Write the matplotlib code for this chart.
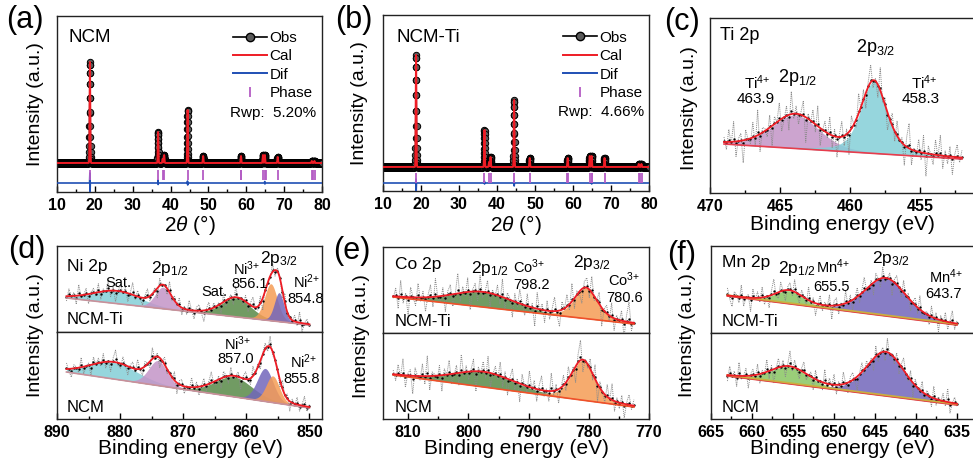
import numpy as np
import matplotlib
matplotlib.use('Agg')
import matplotlib.pyplot as plt
from matplotlib.lines import Line2D
from matplotlib.ticker import MultipleLocator

plt.rcParams['font.family'] = ['Liberation Sans', 'DejaVu Sans']
plt.rcParams['mathtext.fontset'] = 'custom'
plt.rcParams['mathtext.rm'] = 'Liberation Sans'
plt.rcParams['mathtext.it'] = 'Liberation Sans:italic'
plt.rcParams['mathtext.bf'] = 'Liberation Sans:bold'

# ---------------- XRD data ----------------
xrd_reflections = [18.7, 36.7, 37.9, 38.3, 44.5, 48.6, 58.6, 64.4, 64.9, 68.3, 77.3, 78.0]
ncm_intensity = [101, 31, 4, 8, 53, 7, 7, 8, 8, 6, 2, 2]
ncmti_intensity = [112, 37, 5, 10, 67, 9, 9, 11, 11, 9, 3, 3]
phase_ticks = [18.7, 36.7, 37.9, 38.3, 44.5, 48.6, 58.5, 58.7, 64.4, 64.9, 65.1, 68.3, 77.3, 77.7, 78.1]
ncm_dif_pos = [18.7, 36.7, 44.5, 64.9]
ncm_dif_up = [10, 3, 2, 1.5]
ncm_dif_down = [-13, -1.5, -2, -1]
ncmti_dif_pos = [18.7, 36.7, 44.5, 64.9]
ncmti_dif_up = [4, 2, 2, 1]
ncmti_dif_down = [-10, -1, -3, -1]
ncm_rwp = 'Rwp:  5.20%'
ncmti_rwp = 'Rwp:  4.66%'

# ---------------- XPS data ----------------
ti_bg_x = [469, 452]
ti_bg_y = [49, 34]
ti_centers = [463.9, 458.3]
ti_heights = [33.5, 72]
ti_fwhm = [4.0, 2.2]
ti_eta = [0.3, 0.5]

ni_ti_bg_x = [888.5, 850]
ni_ti_bg_y = [34, 7]
ni_ti_centers = [880.5, 873.2, 861.6, 856.1, 854.8]
ni_ti_heights = [12.5, 21.5, 19, 37, 29]
ni_ti_fwhm = [9, 3, 5.5, 2.4, 1.8]
ni_ti_eta = [0.2, 0.2, 0.2, 0.2, 0.2]

ni_bg_x = [888.5, 850]
ni_bg_y = [47, 11]
ni_centers = [881, 874, 862, 857.0, 855.8]
ni_heights = [16.6, 25, 20, 33, 26.7]
ni_fwhm = [9, 3.5, 7, 3, 2.5]
ni_eta = [0.2, 0.2, 0.2, 0.2, 0.2]

co_ti_bg_x = [812.5, 772.5]
co_ti_bg_y = [36, 9]
co_ti_centers = [797.7, 780.5]
co_ti_heights = [15, 30.6]
co_ti_fwhm = [12, 4.5]
co_ti_eta = [0.3, 0.4]

co_bg_x = [812.5, 772.5]
co_bg_y = [44, 12]
co_centers = [797.5, 781.0]
co_heights = [15, 40]
co_fwhm = [12, 4.5]
co_eta = [0.3, 0.4]

mn_ti_bg_x = [663, 635]
mn_ti_bg_y = [37, 8]
mn_ti_centers = [655.5, 643.7]
mn_ti_heights = [13, 38]
mn_ti_fwhm = [4, 6]
mn_ti_eta = [0.3, 0.3]

mn_bg_x = [663, 635]
mn_bg_y = [43, 14]
mn_centers = [655.5, 643.7]
mn_heights = [17, 44]
mn_fwhm = [5.5, 5.5]
mn_eta = [0.3, 0.3]

# scatter of the measured XPS points around the fit (read as pixel-ish offsets)
noise_a = [2,-3,5,-1,8,-6,1,3,-9,4,0,-2,6,-4,10,-7,2,1,-3,5,-8,3,0,7,-5,-1,4,-6,9,-2,3,-4,1,6,-10,2,-1,5,-3,8,
           -7,0,4,-2,7,-5,3,-8,1,6,-4,2,-9,5,0,-3,8,-1,4,-6,2,7,-3,1,-5,9,-2,3,-7,0,5,-4,6,-1,2,-8,4,10,-6,1,
           -2,5,-3,7,-9,3,0,-4,6,-1,8,-5,2,-3,4,-7,1,5,-2,3]
noise_b = [-4,6,-1,3,-7,9,-2,0,5,-8,1,4,-3,7,-6,2,-1,8,-5,3,-9,0,6,-2,4,-7,1,10,-3,5,-1,-6,2,7,-4,0,3,-8,6,-2,
           1,-5,9,-3,4,-1,7,-6,2,-4,8,0,-7,3,5,-2,-9,1,6,-3,4,-1,2,-8,7,-5,0,3,-6,9,-2,1,-4,5,-7,2,8,-1,-3,6,
           -10,4,0,-2,7,-5,3,1,-6,8,-4,2,-1,5,-3,9,-7,0,4,-2]
noise_c = [5,-2,-7,3,1,-4,8,-6,0,2,-9,6,-1,4,-3,7,-5,1,-8,3,10,-2,-4,6,0,-7,2,5,-3,8,-1,-6,4,1,-5,9,-2,3,-8,0,
           6,-4,2,-1,7,-9,3,5,-6,1,-3,8,-2,4,-7,0,6,-5,2,9,-1,-4,3,-8,5,1,-6,7,-3,0,4,-10,2,6,-1,-5,8,-2,3,-7,
           1,5,-4,9,-3,0,2,-6,7,-1,4,-8,3,-2,6,-5,1,8,-4,2]
noise_d = [-1,4,-6,8,-3,2,-9,5,0,-4,7,-2,3,-7,1,6,-5,9,-1,-3,4,-8,2,5,-6,0,10,-4,3,-2,7,-9,1,4,-5,8,-3,0,6,-7,
           2,-1,5,-4,9,-6,3,1,-8,4,-2,7,0,-5,6,-3,2,-9,8,-1,3,-6,5,-4,1,7,-2,-8,4,0,6,-3,9,-5,2,-1,-7,3,5,-4,
           8,-2,0,6,-9,1,4,-3,7,-6,2,-1,5,-8,3,10,-4,1]

CYAN = '#84cfd8'
PINK = '#c494c7'
GREEN = '#588a48'
ORANGE = '#f59c55'
PURPLE = '#7266bb'
LGREEN = '#88c662'
RED = '#ee1c25'

W, H = 973, 467
fig = plt.figure(figsize=(W / 100, H / 100), dpi=100)


def rect(l, t, r, b):
    return [l / W, 1 - b / H, (r - l) / W, (b - t) / H]


def ftext(x, y, s, size, ha='center', va='center', **kw):
    fig.text(x / W, 1 - y / H, s, fontsize=size, ha=ha, va=va, **kw)


def style_axes(ax, major, minor, labels=True):
    for sp in ax.spines.values():
        sp.set_linewidth(1.0)
        sp.set_color('#222222')
    ax.set_yticks([])
    if labels:
        ax.xaxis.set_major_locator(MultipleLocator(major))
        ax.xaxis.set_minor_locator(MultipleLocator(minor))
        ax.tick_params(axis='x', which='major', direction='in', length=4, width=1, pad=4,
                       labelsize=11.5)
        ax.tick_params(axis='x', which='minor', direction='in', length=2.5, width=1)
        for lab in ax.get_xticklabels():
            lab.set_fontweight('bold')
    else:
        ax.set_xticks([])


def pv(x, c, h, w, eta):
    d = (x - c) / w
    return h * ((1 - eta) * np.exp(-4 * np.log(2) * d * d) + eta / (1 + 4 * d * d))


# ---------------- XRD panels ----------------
def draw_xrd(ax, inten, dif_pos, dif_up, dif_down, dif_off, tick_y, ylim):
    x = np.arange(10, 80.0001, 0.02)
    y = np.zeros_like(x)
    for c, h in zip(xrd_reflections, inten):
        y += pv(x, c, h, 0.2, 0.0)
    ax.plot(x, y, '-', color='black', lw=1.0, marker='o', ms=4.6, mfc='#5a5a5a',
            mec='black', mew=0.7, zorder=2)
    ax.plot(x, y, '-', color=RED, lw=1.4, zorder=3)
    xd, yd = [10.0], [0.0]
    for p, u, d in zip(dif_pos, dif_up, dif_down):
        xd += [p - 0.1, p - 0.02, p + 0.02, p + 0.1]
        yd += [0.0, u, d, 0.0]
    xd.append(80.0)
    yd.append(0.0)
    ax.plot(xd, np.array(yd) + dif_off, color='#1f4fb4', lw=1.2, zorder=3)
    ax.plot(phase_ticks, [tick_y] * len(phase_ticks), ls='none', marker='|', ms=7, mew=1.3,
            color='#b45cc4', zorder=4)
    ax.set_xlim(10, 80)
    ax.set_ylim(*ylim)
    style_axes(ax, 10, 5)
    handles = [Line2D([], [], color='black', lw=1.2, marker='o', ms=6, mfc='#5a5a5a', mec='black'),
               Line2D([], [], color=RED, lw=1.4),
               Line2D([], [], color='#1f4fb4', lw=1.4),
               Line2D([], [], ls='none', marker='|', ms=7, mew=1.3, color='#b45cc4')]
    return handles


LEG = dict(loc='upper left', frameon=False, fontsize=11, handlelength=2.2, handletextpad=0.2,
           labelspacing=0.29, borderaxespad=0, borderpad=0)

ax_a = fig.add_axes(rect(57, 16, 322, 192))
h = draw_xrd(ax_a, ncm_intensity, ncm_dif_pos, ncm_dif_up, ncm_dif_down, -20, -12, (-29, 147))
ax_a.legend(h, ['Obs', 'Cal', 'Dif', 'Phase'], bbox_to_anchor=(0.664, 0.915), **LEG)

ax_b = fig.add_axes(rect(383, 15, 649, 191))
h = draw_xrd(ax_b, ncmti_intensity, ncmti_dif_pos, ncmti_dif_up, ncmti_dif_down, -16, -11, (-24, 152))
ax_b.legend(h, ['Obs', 'Cal', 'Dif', 'Phase'], bbox_to_anchor=(0.677, 0.91), **LEG)


# ---------------- XPS panels ----------------
def draw_xps(ax, bg_x, bg_y, centers, heights, fwhm, eta, colors, noise, amp, bgcolors, ylim):
    xf = np.linspace(bg_x[0], bg_x[1], 600)
    bgf = np.interp(xf, bg_x[::-1], bg_y[::-1])
    comps = [pv(xf, c, hh, w, e) for c, hh, w, e in zip(centers, heights, fwhm, eta)]
    for comp, col in zip(comps, colors):
        ax.fill_between(xf, bgf, bgf + comp, color=col, alpha=0.85, lw=0, zorder=1)
    xo = np.linspace(bg_x[0], bg_x[1], len(noise))
    bgo = np.interp(xo, bg_x[::-1], bg_y[::-1])
    fito = bgo + sum(pv(xo, c, hh, w, e) for c, hh, w, e in zip(centers, heights, fwhm, eta))
    nz = np.array(noise, dtype=float)
    ax.plot(xo, fito + amp * nz, ls=(0, (1, 1)), color='#8a8a8a', lw=0.7, zorder=2)
    ax.plot(xo, fito + 0.3 * nz, ls='none', marker='.', ms=1.4, color='black', zorder=2)
    for k, bc in enumerate(bgcolors):
        ax.plot(xf, bgf + 0.9 * k, color=bc, lw=1.2, zorder=3)
    ax.plot(xf, bgf + sum(comps), color=RED, lw=1.3, zorder=4)
    ax.set_ylim(*ylim)


# (c) Ti 2p
ax_c = fig.add_axes(rect(710, 18, 975, 193))
draw_xps(ax_c, ti_bg_x, ti_bg_y, ti_centers, ti_heights, ti_fwhm, ti_eta, [PINK, CYAN],
         noise_a, 2.5, ['#e83c4c'], (0, 175))
ax_c.set_xlim(470, 451.07)
style_axes(ax_c, 5, 2.5)

# (d) Ni 2p
ax_d1 = fig.add_axes(rect(57, 246, 322, 332))
draw_xps(ax_d1, ni_ti_bg_x, ni_ti_bg_y, ni_ti_centers, ni_ti_heights, ni_ti_fwhm, ni_ti_eta,
         [CYAN, PINK, GREEN, ORANGE, PURPLE], noise_b, 1.2, ['#c9909a'], (0, 86))
ax_d1.set_xlim(890, 848)
style_axes(ax_d1, 10, 5, labels=False)
ax_d2 = fig.add_axes(rect(57, 332, 322, 419))
draw_xps(ax_d2, ni_bg_x, ni_bg_y, ni_centers, ni_heights, ni_fwhm, ni_eta,
         [CYAN, PINK, GREEN, PURPLE, ORANGE], noise_c, 1.2, ['#c9909a'], (0, 87))
ax_d2.set_xlim(890, 848)
style_axes(ax_d2, 10, 5)

# (e) Co 2p
ax_e1 = fig.add_axes(rect(383, 247, 649, 333))
draw_xps(ax_e1, co_ti_bg_x, co_ti_bg_y, co_ti_centers, co_ti_heights, co_ti_fwhm, co_ti_eta,
         [GREEN, ORANGE], noise_d, 2.0, ['#f0502a'], (0, 86))
ax_e1.set_xlim(814.2, 770)
style_axes(ax_e1, 10, 5, labels=False)
ax_e2 = fig.add_axes(rect(383, 333, 649, 419))
draw_xps(ax_e2, co_bg_x, co_bg_y, co_centers, co_heights, co_fwhm, co_eta,
         [GREEN, ORANGE], noise_a, 2.0, ['#f0502a'], (0, 86))
ax_e2.set_xlim(814.2, 770)
style_axes(ax_e2, 10, 5)

# (f) Mn 2p
ax_f1 = fig.add_axes(rect(711, 246, 975, 333))
draw_xps(ax_f1, mn_ti_bg_x, mn_ti_bg_y, mn_ti_centers, mn_ti_heights, mn_ti_fwhm, mn_ti_eta,
         [LGREEN, PURPLE], noise_c, 1.5, ['#e84040', '#c8b040'], (0, 87))
ax_f1.set_xlim(665, 632.8)
style_axes(ax_f1, 5, 2.5, labels=False)
ax_f2 = fig.add_axes(rect(711, 333, 975, 419))
draw_xps(ax_f2, mn_bg_x, mn_bg_y, mn_centers, mn_heights, mn_fwhm, mn_eta,
         [LGREEN, PURPLE], noise_b, 1.5, ['#e84040', '#c8b040'], (0, 86))
ax_f2.set_xlim(665, 632.8)
style_axes(ax_f2, 5, 2.5)

# ---------------- texts ----------------
PL = 22
for s, x, y in [('(a)', 25, 20), ('(b)', 354, 20), ('(c)', 682, 22),
                ('(d)', 27, 250), ('(e)', 352, 251), ('(f)', 682, 255)]:
    ftext(x, y, s, PL)

YL = 14
for x, y in [(35, 104), (360, 103), (690, 108), (35, 335), (361, 336), (688, 335)]:
    ftext(x, y, 'Intensity (a.u.)', YL, rotation=90)

XL = 15
ftext(190, 225, r'2$\it{\theta}$ (°)', XL)
ftext(516, 225, r'2$\it{\theta}$ (°)', XL)
ftext(842, 225, 'Binding energy (eV)', XL)
ftext(190, 449, 'Binding energy (eV)', XL)
ftext(516, 449, 'Binding energy (eV)', XL)
ftext(842, 449, 'Binding energy (eV)', XL)

ftext(68, 37, 'NCM', 13.5, ha='left')
ftext(397, 37, 'NCM-Ti', 13.5, ha='left')
ftext(230, 113, ncm_rwp, 11, ha='left')
ftext(558, 112, ncmti_rwp, 11, ha='left')


def sup(base, s):
    return base + r'$^{\text{' + s + '}}$'


# (c)
ftext(720, 35, 'Ti 2p', 13, ha='left')
ftext(798, 78, r'2p$_{1/2}$', 13)
ftext(757, 83, sup('Ti', '4+'), 11)
ftext(756, 99, '463.9', 11)
ftext(876, 47, r'2p$_{3/2}$', 13)
ftext(924, 83, sup('Ti', '4+'), 11)
ftext(921, 99, '458.3', 11)

# (d)
ftext(67, 266, 'Ni 2p', 12.5, ha='left')
ftext(118, 283, 'Sat.', 10.5)
ftext(170, 268, r'2p$_{1/2}$', 12.5)
ftext(214, 292, 'Sat.', 10.5)
ftext(247, 269, sup('Ni', '3+'), 10.5)
ftext(250, 284, '856.1', 10.5)
ftext(279, 258, r'2p$_{3/2}$', 12.5)
ftext(307, 282, sup('Ni', '2+'), 10.5)
ftext(306, 299, '854.8', 10.5)
ftext(67, 320, 'NCM-Ti', 12, ha='left')
ftext(238, 344, sup('Ni', '3+'), 10.5)
ftext(236, 359, '857.0', 10.5)
ftext(304, 362, sup('Ni', '2+'), 10.5)
ftext(302, 379, '855.8', 10.5)
ftext(67, 408, 'NCM', 12, ha='left')

# (e)
ftext(395, 265, 'Co 2p', 12.5, ha='left')
ftext(490, 268, r'2p$_{1/2}$', 12.5)
ftext(529, 267, sup('Co', '3+'), 10.5)
ftext(531, 285, '798.2', 10.5)
ftext(592, 262, r'2p$_{3/2}$', 12.5)
ftext(624, 280, sup('Co', '3+'), 10.5)
ftext(625, 298, '780.6', 10.5)
ftext(395, 321, 'NCM-Ti', 12, ha='left')
ftext(395, 407, 'NCM', 12, ha='left')

# (f)
ftext(722, 263, 'Mn 2p', 12.5, ha='left')
ftext(797, 268, r'2p$_{1/2}$', 12.5)
ftext(833, 267, sup('Mn', '4+'), 10.5)
ftext(831, 287, '655.5', 10.5)
ftext(891, 259, r'2p$_{3/2}$', 12.5)
ftext(946, 277, sup('Mn', '4+'), 10.5)
ftext(944, 294, '643.7', 10.5)
ftext(722, 322, 'NCM-Ti', 12, ha='left')
ftext(722, 407, 'NCM', 12, ha='left')

fig.savefig('out.png', dpi=100)
